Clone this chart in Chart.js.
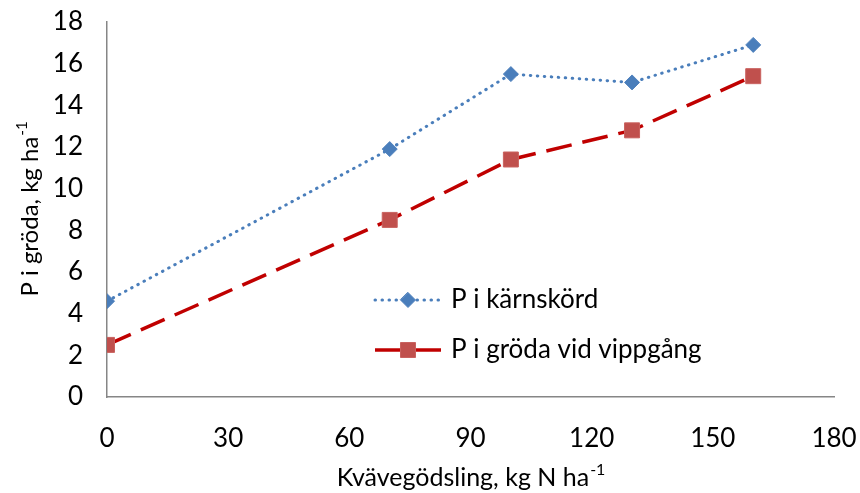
<!DOCTYPE html>
<html>
<head>
<meta charset="utf-8">
<script src="https://cdn.jsdelivr.net/npm/chart.js@4.4.1/dist/chart.umd.min.js"></script>
<style>
  html, body { margin: 0; padding: 0; background: #ffffff; }
  canvas { display: block; }
</style>
</head>
<body>
<canvas id="c" width="860" height="493"></canvas>
<script>
// Nitrogen fertilisation levels (kg N/ha)
const nitrogen = [0, 70, 100, 130, 160];
// P in grain harvest (kg/ha)
const pKarnskord = [4.6, 11.9, 15.5, 15.1, 16.9];
// P in crop at panicle emergence (kg/ha)
const pVippgang = [2.5, 8.5, 11.4, 12.8, 15.4];

const seriesNames = ['P i kärnskörd', 'P i gröda vid vippgång'];
const xTitle = ['Kvävegödsling, kg N ha', '-1'];
const yTitle = ['P i gröda, kg ha', '-1'];

const FONT = 'Lato, "Open Sans", sans-serif';
const AXIS_GREY = '#868686';
const TEXT = '#000000';

function points(xs, ys) {
  return xs.map((x, i) => ({ x: x, y: ys[i] }));
}

// Text with a trailing superscript, centred on (x, y)
function drawSupText(ctx, base, sup, x, y, size) {
  ctx.save();
  ctx.font = size + 'px ' + FONT;
  const wb = ctx.measureText(base).width;
  const supSize = Math.round(size * 0.62);
  ctx.font = supSize + 'px ' + FONT;
  const ws = ctx.measureText(sup).width;
  const start = x - (wb + ws) / 2;
  ctx.fillStyle = TEXT;
  ctx.textBaseline = 'middle';
  ctx.textAlign = 'left';
  ctx.font = size + 'px ' + FONT;
  ctx.fillText(base, start, y);
  ctx.font = supSize + 'px ' + FONT;
  ctx.fillText(sup, start + wb + 1, y - size * 0.32);
  ctx.restore();
}

const axisTitles = {
  id: 'axisTitles',
  afterDraw(chart) {
    const ctx = chart.ctx;
    const a = chart.chartArea;
    drawSupText(ctx, xTitle[0], xTitle[1], (a.left + a.right) / 2, 478, 25);
    ctx.save();
    ctx.translate(30, (a.top + a.bottom) / 2);
    ctx.rotate(-Math.PI / 2);
    drawSupText(ctx, yTitle[0], yTitle[1], 0, 0, 24);
    ctx.restore();
  }
};

// Legend drawn inside the plot area, using each dataset's own style
const innerLegend = {
  id: 'innerLegend',
  afterDraw(chart) {
    const ctx = chart.ctx;
    const rows = [
      { x: 375, y: 300 },
      { x: 375, y: 350 }
    ];
    chart.data.datasets.forEach((ds, i) => {
      const r = rows[i];
      ctx.save();
      ctx.strokeStyle = ds.borderColor;
      ctx.lineWidth = ds.borderWidth;
      ctx.lineCap = ds.borderCapStyle || 'butt';
      ctx.setLineDash(i === 0 ? ds.borderDash : []);
      ctx.beginPath();
      ctx.moveTo(r.x, r.y);
      ctx.lineTo(r.x + 66, r.y);
      ctx.stroke();
      ctx.setLineDash([]);
      ctx.fillStyle = ds.pointBackgroundColor;
      ctx.strokeStyle = ds.pointBorderColor;
      ctx.lineWidth = ds.pointBorderWidth;
      ctx.beginPath();
      if (ds.pointStyle === 'rect') {
        const s = ds.pointRadius * Math.SQRT1_2;
        ctx.rect(r.x + 33 - s, r.y - s, 2 * s, 2 * s);
      } else {
        const rr = ds.pointRadius;
        ctx.moveTo(r.x + 33, r.y - rr);
        ctx.lineTo(r.x + 33 + rr, r.y);
        ctx.lineTo(r.x + 33, r.y + rr);
        ctx.lineTo(r.x + 33 - rr, r.y);
        ctx.closePath();
      }
      ctx.fill();
      ctx.stroke();
      ctx.fillStyle = TEXT;
      ctx.font = '26px ' + FONT;
      ctx.textBaseline = 'middle';
      ctx.textAlign = 'left';
      ctx.fillText(ds.label, r.x + 76, r.y);
      ctx.restore();
    });
  }
};

new Chart(document.getElementById('c'), {
  type: 'scatter',
  data: {
    datasets: [
      {
        label: seriesNames[0],
        data: points(nitrogen, pKarnskord),
        showLine: true,
        borderColor: '#4a7ebb',
        borderWidth: 3,
        borderDash: [0.5, 6.5],
        borderCapStyle: 'round',
        pointStyle: 'rectRot',
        pointRadius: 7.5,
        pointHoverRadius: 7.5,
        pointBackgroundColor: '#4a7ebb',
        pointBorderColor: '#4f81bd',
        pointBorderWidth: 1,
        tension: 0
      },
      {
        label: seriesNames[1],
        data: points(nitrogen, pVippgang),
        showLine: true,
        borderColor: '#c00000',
        borderWidth: 3.5,
        borderDash: [26, 11],
        borderCapStyle: 'butt',
        pointStyle: 'rect',
        pointRadius: 10.6,
        pointHoverRadius: 10.6,
        pointBackgroundColor: '#c0504d',
        pointBorderColor: '#c9625f',
        pointBorderWidth: 1,
        tension: 0
      }
    ]
  },
  options: {
    responsive: false,
    animation: false,
    devicePixelRatio: 1,
    layout: { padding: { left: 0, right: 26, top: 22, bottom: 0 } },
    plugins: {
      legend: { display: false },
      tooltip: { enabled: false }
    },
    scales: {
      x: {
        type: 'linear',
        min: 0,
        max: 180,
        afterFit(s) {
          s.height = 96;
          s.paddingLeft = 0;
          s.paddingRight = 0;
        },
        ticks: {
          stepSize: 30,
          padding: 26,
          color: TEXT,
          font: { family: FONT, size: 26 }
        },
        grid: { display: false, drawTicks: false },
        border: { display: true, color: AXIS_GREY, width: 1.5 }
      },
      y: {
        min: 0,
        max: 18,
        afterFit(s) {
          s.width = 107;
          s.paddingTop = 0;
          s.paddingBottom = 0;
        },
        ticks: {
          stepSize: 2,
          padding: 24,
          color: TEXT,
          font: { family: FONT, size: 26 }
        },
        grid: { display: false, drawTicks: false },
        border: { display: true, color: AXIS_GREY, width: 1.5 }
      }
    }
  },
  plugins: [axisTitles, innerLegend]
});
</script>
</body>
</html>
